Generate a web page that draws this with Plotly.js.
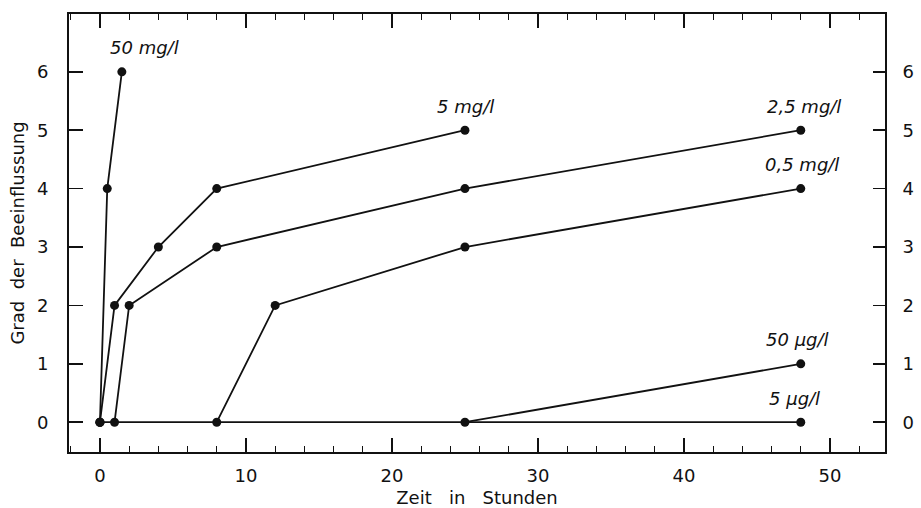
<!DOCTYPE html>
<html><head><meta charset="utf-8">
<script src="https://cdn.plot.ly/plotly-3.0.1.min.js"></script>
<style>body{margin:0;background:#fff}#c{width:921px;height:508px}</style>
</head><body><div id="c"></div>
<script>
const series = ["50 mg/l", "5 mg/l", "2,5 mg/l", "0,5 mg/l", "50 µg/l", "5 µg/l"];
const x50mg  = [0, 0.5, 1.5];       const y50mg  = [0, 4, 6];
const x5mg   = [0, 1, 4, 8, 25];    const y5mg   = [0, 2, 3, 4, 5];
const x2_5mg = [1, 2, 8, 25, 48];   const y2_5mg = [0, 2, 3, 4, 5];
const x0_5mg = [8, 12, 25, 48];     const y0_5mg = [0, 2, 3, 4];
const x50ug  = [25, 48];            const y50ug  = [0, 1];
const x5ug   = [0, 48];             const y5ug   = [0, 0];
const xTicks = [0, 10, 20, 30, 40, 50];
const yTicks = [0, 1, 2, 3, 4, 5, 6];

const xs = [x50mg, x5mg, x2_5mg, x0_5mg, x50ug, x5ug];
const ys = [y50mg, y5mg, y2_5mg, y0_5mg, y50ug, y5ug];
const labelShift = [[23, 24], [1, 24], [3, 24], [1, 24], [-3, 24], [-6, 24]];

const FONT = "DejaVu Sans, sans-serif";
const traces = xs.map((x, i) => ({
  x: x, y: ys[i], type: 'scatter', mode: 'lines+markers', name: series[i],
  line: {color: '#111', width: 1.8},
  marker: {color: '#111', size: 9},
  showlegend: false, hoverinfo: 'skip'
}));
traces.push({x: [0], y: [0], yaxis: 'y2', mode: 'markers', marker: {opacity: 0}, showlegend: false, hoverinfo: 'skip'});

const annotations = series.map((s, i) => ({
  x: xs[i][xs[i].length - 1], y: ys[i][ys[i].length - 1],
  text: s, showarrow: false, xshift: labelShift[i][0], yshift: labelShift[i][1],
  font: {family: FONT, size: 18, color: '#111', style: 'italic'}
}));

const layout = {
  width: 921, height: 508,
  margin: {l: 69, r: 36, t: 14, b: 56},
  paper_bgcolor: '#fff', plot_bgcolor: '#fff',
  font: {family: FONT, size: 18, color: '#111'},
  xaxis: {
    range: [-2.12, 53.77], tickvals: xTicks, ticktext: xTicks.map(String),
    ticks: 'inside', ticklen: 14, tickwidth: 1.5, tickcolor: '#111',
    minor: {dtick: 2, tick0: 0, ticks: 'inside', ticklen: 6, tickwidth: 1.2, tickcolor: '#111'},
    showline: true, linecolor: '#111', linewidth: 2, mirror: 'ticks',
    showgrid: false, zeroline: false, ticklabelstandoff: 6,
    title: {text: 'Zeit   in   Stunden', font: {size: 18}, standoff: 9}
  },
  yaxis: {
    range: [-0.51, 6.99], tickvals: yTicks, ticktext: yTicks.map(String),
    ticks: 'inside', ticklen: 14, tickwidth: 1.5, tickcolor: '#111',
    showline: true, linecolor: '#111', linewidth: 2,
    showgrid: false, zeroline: false, ticklabelstandoff: 15,
    title: {text: 'Grad  der  Beeinflussung', font: {size: 18}, standoff: 8}
  },
  yaxis2: {
    range: [-0.51, 6.99], tickvals: yTicks, ticktext: yTicks.map(String),
    overlaying: 'y', side: 'right',
    ticks: 'inside', ticklen: 12, tickwidth: 1.5, tickcolor: '#111',
    showline: true, linecolor: '#111', linewidth: 2,
    showgrid: false, zeroline: false, ticklabelstandoff: 12
  },
  annotations: annotations
};
Plotly.newPlot('c', traces, layout, {staticPlot: true});
</script></body></html>
